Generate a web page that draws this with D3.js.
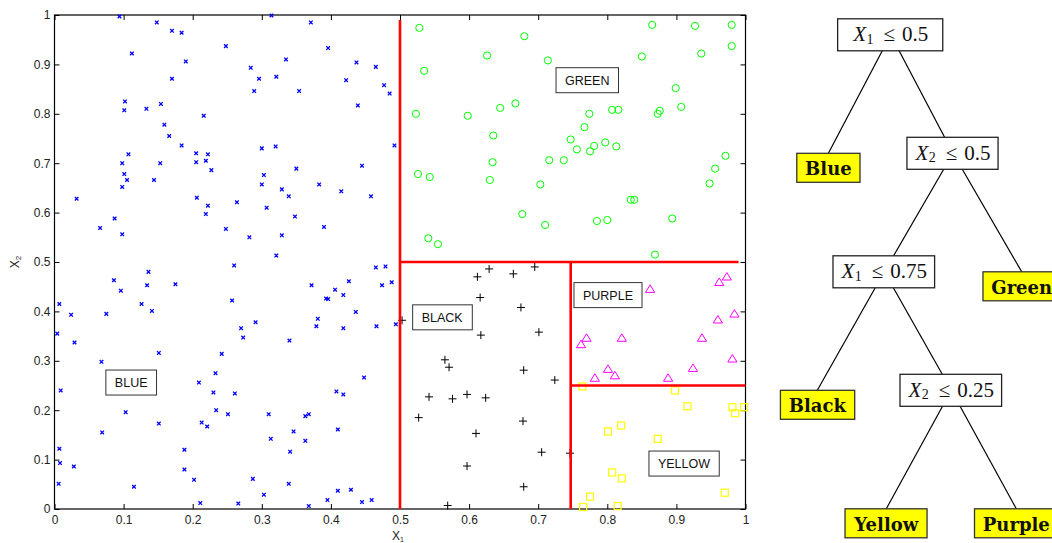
<!DOCTYPE html>
<html><head><meta charset="utf-8">
<script src="https://cdn.jsdelivr.net/npm/d3@7"></script>
<style>body{margin:0;background:#fff}</style>
</head><body><svg id="c" width="1052" height="543"></svg>
<script>
// ---------------- data ----------------
const tickValues = [0,0.1,0.2,0.3,0.4,0.5,0.6,0.7,0.8,0.9,1];
const tickLabels = ["0","0.1","0.2","0.3","0.4","0.5","0.6","0.7","0.8","0.9","1"];

const bluePts = [[0.094,0.997],[0.148,0.985],[0.170,0.968],[0.184,0.964],[0.248,0.937],[0.112,0.922],[0.190,0.906],[0.170,0.871],[0.102,0.825],[0.101,0.807],[0.133,0.810],[0.154,0.820],[0.216,0.796],[0.159,0.778],[0.166,0.755],[0.184,0.736],[0.107,0.718],[0.098,0.700],[0.153,0.700],[0.205,0.720],[0.205,0.702],[0.219,0.705],[0.222,0.718],[0.227,0.686],[0.101,0.678],[0.105,0.666],[0.144,0.666],[0.098,0.652],[0.032,0.628],[0.206,0.630],[0.222,0.614],[0.264,0.621],[0.219,0.597],[0.087,0.588],[0.066,0.569],[0.248,0.567],[0.098,0.556],[0.260,0.493],
[0.314,0.999],[0.371,0.985],[0.396,0.933],[0.335,0.910],[0.437,0.904],[0.465,0.895],[0.284,0.893],[0.296,0.871],[0.321,0.875],[0.422,0.868],[0.477,0.858],[0.485,0.841],[0.289,0.846],[0.354,0.846],[0.439,0.817],[0.300,0.730],[0.320,0.734],[0.492,0.736],[0.350,0.689],[0.445,0.695],[0.303,0.676],[0.300,0.657],[0.329,0.647],[0.383,0.657],[0.339,0.633],[0.415,0.643],[0.458,0.633],[0.307,0.610],[0.348,0.592],[0.390,0.571],[0.282,0.550],[0.329,0.554],[0.321,0.513],[0.465,0.489],[0.479,0.491],
[0.372,0.453],[0.426,0.461],[0.474,0.453],[0.488,0.459],[0.406,0.444],[0.418,0.433],[0.393,0.426],[0.396,0.425],[0.257,0.422],[0.436,0.399],[0.381,0.385],[0.291,0.378],[0.270,0.366],[0.379,0.370],[0.418,0.366],[0.466,0.370],[0.494,0.374],[0.273,0.347],[0.340,0.341],[0.448,0.266],[0.261,0.234],[0.408,0.238],[0.418,0.232],[0.310,0.192],[0.363,0.188],[0.368,0.192],[0.410,0.161],[0.346,0.157],[0.313,0.142],[0.363,0.138],[0.341,0.116],[0.287,0.061],[0.339,0.051],[0.303,0.029],[0.410,0.037],[0.429,0.039],[0.395,0.018],[0.459,0.018],[0.445,0.014],[0.266,0.011],[0.368,0.006],
[0.136,0.480],[0.086,0.463],[0.134,0.453],[0.175,0.455],[0.096,0.442],[0.007,0.415],[0.126,0.415],[0.024,0.393],[0.075,0.395],[0.141,0.401],[0.004,0.355],[0.029,0.337],[0.068,0.298],[0.151,0.316],[0.242,0.314],[0.233,0.275],[0.209,0.256],[0.009,0.240],[0.230,0.236],[0.103,0.196],[0.234,0.200],[0.251,0.192],[0.151,0.173],[0.213,0.175],[0.221,0.167],[0.069,0.155],[0.007,0.122],[0.188,0.120],[0.008,0.093],[0.028,0.086],[0.188,0.080],[0.202,0.059],[0.006,0.051],[0.115,0.045],[0.211,0.012]];

const greenPts = [[0.528,0.974],[0.535,0.887],[0.523,0.800],[0.598,0.796],[0.526,0.678],[0.543,0.672],[0.541,0.548],[0.555,0.536],[0.865,0.980],[0.927,0.978],[0.980,0.980],[0.680,0.957],[0.626,0.918],[0.714,0.908],[0.850,0.916],[0.936,0.922],[0.980,0.937],[0.899,0.852],[0.645,0.812],[0.667,0.821],[0.774,0.800],[0.807,0.808],[0.816,0.808],[0.873,0.800],[0.876,0.806],[0.907,0.814],[0.635,0.756],[0.767,0.773],[0.747,0.748],[0.756,0.728],[0.775,0.724],[0.781,0.735],[0.797,0.742],[0.813,0.734],[0.634,0.702],[0.716,0.706],[0.737,0.706],[0.971,0.715],[0.956,0.689],[0.630,0.666],[0.703,0.657],[0.948,0.659],[0.834,0.626],[0.839,0.626],[0.677,0.597],[0.710,0.575],[0.785,0.583],[0.800,0.585],[0.894,0.588],[0.869,0.515]];

const blackPts = [[0.629,0.486],[0.612,0.470],[0.664,0.476],[0.695,0.490],[0.616,0.428],[0.675,0.408],[0.701,0.358],[0.617,0.352],[0.679,0.281],[0.724,0.261],[0.597,0.232],[0.624,0.225],[0.678,0.178],[0.610,0.153],[0.705,0.115],[0.746,0.113],[0.597,0.087],[0.679,0.045],[0.503,0.382],[0.565,0.302],[0.571,0.287],[0.542,0.227],[0.576,0.223],[0.527,0.185],[0.569,0.007]];

const purplePts = [[0.862,0.445],[0.962,0.459],[0.973,0.470],[0.984,0.395],[0.960,0.383],[0.770,0.346],[0.762,0.333],[0.821,0.346],[0.937,0.346],[0.981,0.304],[0.801,0.283],[0.924,0.285],[0.811,0.270],[0.782,0.265],[0.888,0.265]];

const yellowPts = [[0.764,0.248],[0.898,0.240],[0.916,0.208],[0.981,0.206],[0.998,0.206],[0.985,0.194],[0.820,0.169],[0.801,0.157],[0.873,0.142],[0.807,0.074],[0.821,0.062],[0.970,0.033],[0.775,0.025],[0.765,0.004],[0.815,0.006]];

// split boundaries [x1,y1,x2,y2]
const splits = [[0.5,0,0.5,0.99],[0.5,0.5,0.99,0.5],[0.747,0,0.747,0.5],[0.747,0.25,1,0.25]];

// region labels [text, x, y]
const regionLabels = [["BLUE",0.111,0.256],["GREEN",0.771,0.868],["BLACK",0.561,0.388],["PURPLE",0.801,0.433],["YELLOW",0.911,0.092]];

// decision tree
const treeData = {cond:["X","1","0.5"], children:[
  {leaf:"Blue"},
  {cond:["X","2","0.5"], children:[
    {cond:["X","1","0.75"], children:[
      {leaf:"Black"},
      {cond:["X","2","0.25"], children:[{leaf:"Yellow"},{leaf:"Purple"}]}
    ]},
    {leaf:"Green"}
  ]}
]};

// ---------------- layout constants ----------------
const svg = d3.select("#c");
const sans = "'Liberation Sans', Arial, Helvetica, sans-serif";
const serif = "'Liberation Serif', 'Times New Roman', serif";
const x = d3.scaleLinear().domain([0,1]).range([54.5,745.5]);
const y = d3.scaleLinear().domain([0,1]).range([509,15]);

// ---------------- scatter ----------------
const plot = svg.append("g");
const fmt = (d,i) => tickLabels[tickValues.indexOf(d)];
function styleAxis(g){
  g.select(".domain").remove();
  g.selectAll(".tick line").attr("stroke","#000");
  g.selectAll(".tick text").attr("font-family",sans).attr("font-size",12).attr("fill","#222");
}
plot.append("g").attr("transform",`translate(0,${y(0)})`)
  .call(d3.axisBottom(x).tickValues(tickValues).tickSize(-5).tickPadding(6).tickFormat(fmt)).call(styleAxis);
plot.append("g").attr("transform",`translate(${x(0)},0)`)
  .call(d3.axisLeft(y).tickValues(tickValues).tickSize(-5).tickPadding(4).tickFormat(fmt)).call(styleAxis);
plot.append("g").attr("transform",`translate(0,${y(1)})`)
  .call(d3.axisTop(x).tickValues(tickValues).tickSize(-5).tickFormat("")).call(styleAxis);
plot.append("g").attr("transform",`translate(${x(1)},0)`)
  .call(d3.axisRight(y).tickValues(tickValues).tickSize(-5).tickFormat("")).call(styleAxis);

plot.append("rect").attr("x",x(0)).attr("y",y(1)).attr("width",x(1)-x(0)).attr("height",y(0)-y(1))
  .attr("fill","none").attr("stroke","#000").attr("stroke-width",1.2);

// markers
const mk = plot.append("g").attr("fill","none");
mk.selectAll(".b").data(bluePts).join("path").attr("class","b")
  .attr("d",d=>{const cx=x(d[0]),cy=y(d[1]),s=1.8;return `M${cx-s},${cy-s}L${cx+s},${cy+s}M${cx-s},${cy+s}L${cx+s},${cy-s}`;})
  .attr("stroke","#0000ff").attr("stroke-width",1.3);
mk.selectAll(".g").data(greenPts).join("circle").attr("class","g")
  .attr("cx",d=>x(d[0])).attr("cy",d=>y(d[1])).attr("r",3.6)
  .attr("stroke","#00ff00").attr("stroke-width",1);
mk.selectAll(".k").data(blackPts).join("path").attr("class","k")
  .attr("d",d=>{const cx=x(d[0]),cy=y(d[1]),s=4;return `M${cx-s},${cy}L${cx+s},${cy}M${cx},${cy-s}L${cx},${cy+s}`;})
  .attr("stroke","#000").attr("stroke-width",1);
mk.selectAll(".p").data(purplePts).join("path").attr("class","p")
  .attr("d",d=>{const cx=x(d[0]),cy=y(d[1]);return `M${cx},${cy-4.3}L${cx+4.6},${cy+3.2}L${cx-4.6},${cy+3.2}Z`;})
  .attr("stroke","#ff00ff").attr("stroke-width",1);
mk.selectAll(".y").data(yellowPts).join("rect").attr("class","y")
  .attr("x",d=>x(d[0])-3.5).attr("y",d=>y(d[1])-3.5).attr("width",7).attr("height",7)
  .attr("stroke","#ffff00").attr("stroke-width",1.2);

// split lines
plot.selectAll(".split").data(splits).join("line").attr("class","split")
  .attr("x1",d=>x(d[0])).attr("y1",d=>y(d[1])).attr("x2",d=>x(d[2])).attr("y2",d=>y(d[3]))
  .attr("stroke","#ff0000").attr("stroke-width",2.6);

// region labels
regionLabels.forEach(([t,lx,ly])=>{
  const g = plot.append("g");
  const tx = g.append("text").attr("x",x(lx)).attr("y",y(ly)+4.5).attr("text-anchor","middle")
    .attr("font-family",sans).attr("font-size",12.5).attr("fill","#111").text(t);
  const bb = tx.node().getBBox();
  g.insert("rect","text").attr("x",bb.x-9).attr("y",y(ly)-12.5).attr("width",bb.width+18).attr("height",25)
    .attr("fill","#fff").attr("stroke","#333").attr("stroke-width",1);
});

// axis titles
const xt = plot.append("text").attr("x",(x(0)+x(1))/2 - 2).attr("y",540).attr("text-anchor","middle")
  .attr("font-family",sans).attr("font-size",12).attr("fill","#222");
xt.append("tspan").text("X");
xt.append("tspan").attr("font-size",7).attr("dy",2).text("1");
const yt = plot.append("text").attr("transform",`translate(18.5,${(y(0)+y(1))/2}) rotate(-90)`).attr("text-anchor","middle")
  .attr("font-family",sans).attr("font-size",12).attr("fill","#222");
yt.append("tspan").text("X");
yt.append("tspan").attr("font-size",8).attr("dy",2).text("2");

// ---------------- tree ----------------
const rootPos = [890.7, 34.8], levelDy = 118.5, levelHalf = [62.3, 68.7, 67, 65];
const root = d3.hierarchy(treeData);
root.eachBefore(n=>{
  if(!n.parent){ n.x = rootPos[0]; n.y = rootPos[1]; }
  else { const i = n.parent.children.indexOf(n); n.x = n.parent.x + (i===0?-1:1)*levelHalf[n.depth-1]; n.y = n.parent.y + levelDy; }
});
const tg = svg.append("g");
tg.selectAll(".edge").data(root.links()).join("line").attr("class","edge")
  .attr("x1",d=>d.source.x).attr("y1",d=>d.source.y).attr("x2",d=>d.target.x).attr("y2",d=>d.target.y)
  .attr("stroke","#000").attr("stroke-width",1.2);

root.descendants().forEach(n=>{
  const g = tg.append("g");
  if(n.data.cond){
    const [v,sub,val] = n.data.cond;
    const t = g.append("text").attr("x",n.x).attr("y",n.y+6.3).attr("text-anchor","middle")
      .attr("font-family",serif).attr("font-size",21).attr("fill","#111");
    t.append("tspan").attr("font-style","italic").text(v);
    t.append("tspan").attr("font-size",14).attr("dy",2.5).attr("dx",0.5).text(sub);
    t.append("tspan").attr("dy",-2.5).attr("dx",10).text("\u2264");
    t.append("tspan").attr("dx",7).text(val);
    const bb = t.node().getBBox();
    const pad = n.depth===0 ? 14.5 : 7.5;
    g.insert("rect","text").attr("x",bb.x-pad).attr("y",n.y-16).attr("width",bb.width+2*pad).attr("height",32)
      .attr("fill","#fff").attr("stroke","#222").attr("stroke-width",1.3);
  } else {
    const t = g.append("text").attr("x",n.x).attr("y",n.y+21.7).attr("text-anchor","middle")
      .attr("font-family","'DejaVu Serif', serif").attr("font-weight","bold").attr("font-size",18).attr("fill","#111")
      .text(n.data.leaf);
    const bb = t.node().getBBox();
    g.insert("rect","text").attr("x",bb.x-8.3).attr("y",n.y).attr("width",bb.width+16.6).attr("height",29)
      .attr("fill","#ffff00").attr("stroke","#333").attr("stroke-width",1.3);
  }
});
</script></body></html>
